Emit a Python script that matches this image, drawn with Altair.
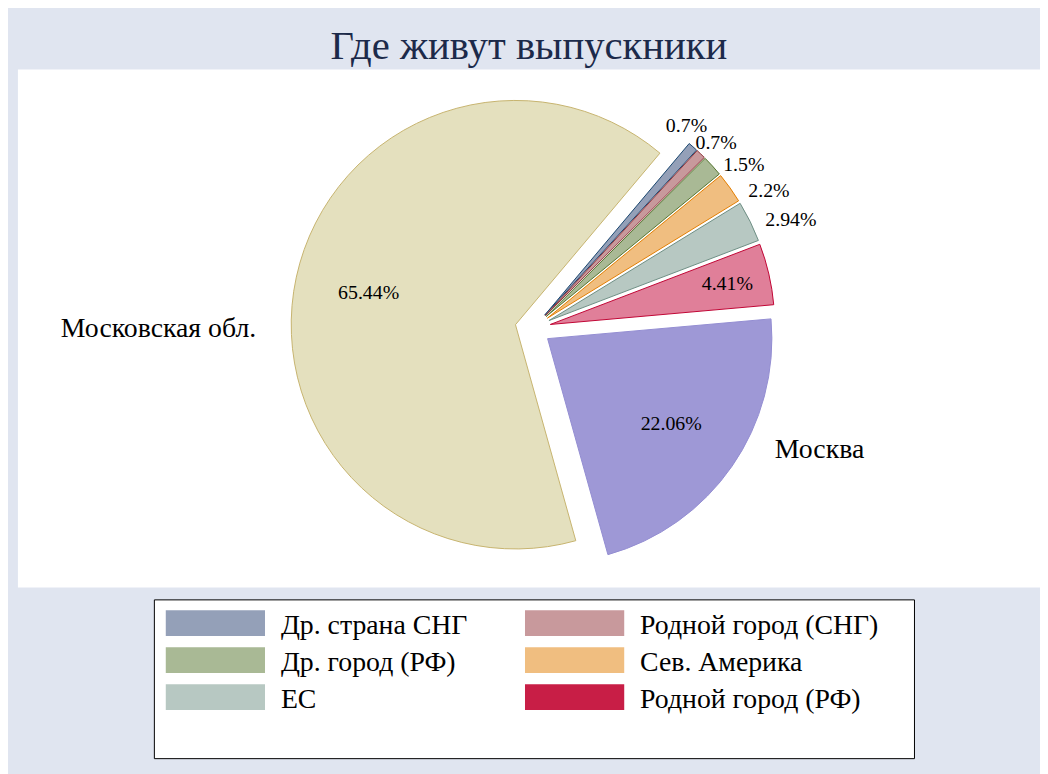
import math
import altair as alt
import pandas as pd

# ---------------- data ----------------
title_text = "Где живут выпускники"
names = ["Др. страна СНГ", "Родной город (СНГ)", "Др. город (РФ)", "Сев. Америка",
         "ЕС", "Родной город (РФ)", "Москва", "Московская обл."]
values = [0.7, 0.7, 1.5, 2.2, 2.94, 4.41, 22.06, 65.44]
order = list(range(len(names)))

pie_fills = ["#94A0B8", "#C8999C", "#A9B995", "#F0BE80", "#B7C8C2", "#E07F99", "#9E98D6", "#E4E0BE"]
pie_strokes = ["#1A476F", "#90353B", "#55752F", "#E37E00", "#6E8E84", "#C10534", "#938DD2", "#C7B36F"]

legend_names = names[:6]
legend_fills = ["#94A0B8", "#C8999C", "#A9B995", "#F0BE80", "#B7C8C2", "#C81E46"]

# ---------------- layout / style ----------------
FONT = "Liberation Serif"
BG = "#E0E5F0"
W, H = 1030, 522
CX, CY = 519, 261          # pie centre inside the plot area
R = 226                    # pie radius
EXPL = 18                  # explode distance of every slice
A0 = math.radians(40.1)    # start angle (clockwise from 12 o'clock)

pie_df = pd.DataFrame({"name": names, "value": values, "order": order})
leg_df = pd.DataFrame({"lname": legend_names, "idx": list(range(len(legend_names)))})

fill_scale = alt.Scale(domain=names, range=pie_fills)
stroke_scale = alt.Scale(domain=names, range=pie_strokes)

base = (
    alt.Chart(pie_df)
    .transform_joinaggregate(total="sum(value)")
    .transform_window(cum="sum(value)", sort=[alt.SortField("order")], frame=[None, 0])
    .transform_calculate(f1="datum.cum / datum.total",
                         f0="(datum.cum - datum.value) / datum.total")
    .transform_calculate(mid=f"{A0} + PI * (datum.f0 + datum.f1)")
    .transform_calculate(cx=f"{CX} + {EXPL} * sin(datum.mid)",
                         cy=f"{CY} - {EXPL} * cos(datum.mid)")
)

arcs = base.mark_arc(radius=R, strokeWidth=1).encode(
    x=alt.X("cx:Q", scale=None, axis=None),
    y=alt.Y("cy:Q", scale=None, axis=None),
    theta=alt.Theta("f0:Q", scale=alt.Scale(domain=[0, 1], range=[A0, A0 + 2 * math.pi]), stack=None),
    theta2="f1:Q",
    fill=alt.Fill("name:N", scale=fill_scale, legend=None),
    stroke=alt.Stroke("name:N", scale=stroke_scale, legend=None),
)

# percentage labels inside the larger slices
inside = (
    base.transform_filter("datum.value > 4")
    .transform_calculate(d=f"{R} * (datum.value > 10 ? 0.67 : 0.81)")
    .transform_calculate(lx="datum.cx + datum.d * sin(datum.mid)",
                         ly="datum.cy - datum.d * cos(datum.mid)",
                         lab="toString(datum.value) + '%'")
    .mark_text(font=FONT, fontSize=20, color="black", align="center", baseline="middle")
    .encode(x=alt.X("lx:Q", scale=None, axis=None),
            y=alt.Y("ly:Q", scale=None, axis=None),
            text="lab:N")
)

# percentage labels outside the small slices, fanned out
outside = (
    base.transform_filter("datum.value < 4")
    .transform_window(rk="row_number()", sort=[alt.SortField("order")])
    .transform_calculate(k="datum.rk - 1")
    .transform_calculate(phi=f"{A0} + PI / 180 * (-2.9 + 7.5 * datum.k)",
                         d="256 + 6.5 * datum.k")
    .transform_calculate(lx=f"{CX} + datum.d * sin(datum.phi)",
                         ly=f"{CY} - datum.d * cos(datum.phi)",
                         lab="toString(datum.value) + '%'")
    .mark_text(font=FONT, fontSize=20, color="black", align="center", baseline="middle")
    .encode(x=alt.X("lx:Q", scale=None, axis=None),
            y=alt.Y("ly:Q", scale=None, axis=None),
            text="lab:N")
)

# category names next to the two big slices
names_base = (
    base.transform_filter("datum.value > 20")
    .transform_calculate(phi=f"{A0} + 2 * PI * (datum.f0 + 0.43 * (datum.f1 - datum.f0))")
    .transform_calculate(nx=f"datum.cx + {R + 36} * sin(datum.phi)",
                         ny=f"datum.cy - {R + 36} * cos(datum.phi)")
)
name_right = names_base.transform_filter("sin(datum.phi) > 0").mark_text(
    font=FONT, fontSize=28, color="black", align="left", baseline="middle", dy=-15
).encode(x=alt.X("nx:Q", scale=None, axis=None), y=alt.Y("ny:Q", scale=None, axis=None), text="name:N")
name_left = names_base.transform_filter("sin(datum.phi) <= 0").mark_text(
    font=FONT, fontSize=28, color="black", align="right", baseline="middle", dy=-15
).encode(x=alt.X("nx:Q", scale=None, axis=None), y=alt.Y("ny:Q", scale=None, axis=None), text="name:N")

pie = alt.layer(arcs, inside, outside, name_right, name_left).properties(
    width=W, height=H, view=alt.ViewBackground(fill="white", stroke=None)
)

# ---------------- legend panel ----------------
leg_base = (
    alt.Chart(leg_df)
    .transform_calculate(row="floor(datum.idx / 2)", col="datum.idx % 2")
    .transform_calculate(x0="12 + datum.col * 362", yc="24 + datum.row * 37.25")
    .transform_calculate(x1="datum.x0 + 100", y0="datum.yc - 13", y1="datum.yc + 13",
                         tx="datum.x0 + 116", ty="datum.yc + 11")
)
swatches = leg_base.mark_rect().encode(
    x=alt.X("x0:Q", scale=None, axis=None), x2="x1:Q",
    y=alt.Y("y0:Q", scale=None, axis=None), y2="y1:Q",
    fill=alt.Fill("lname:N", scale=alt.Scale(domain=legend_names, range=legend_fills), legend=None),
)
leg_text = leg_base.mark_text(font=FONT, fontSize=28, color="black", align="left",
                              baseline="alphabetic").encode(
    x=alt.X("tx:Q", scale=None, axis=None),
    y=alt.Y("ty:Q", scale=None, axis=None),
    text="lname:N",
)
legend_panel = alt.layer(swatches, leg_text).properties(
    width=766, height=160,
    view=alt.ViewBackground(fill="white", stroke="black", strokeWidth=1),
)

spacer = alt.Chart(pd.DataFrame({"a": [0]})).mark_point(opacity=0).properties(
    width=136, height=160, view=alt.ViewBackground(fill=None, stroke=None)
)

bottom = alt.hconcat(spacer, legend_panel, spacing=0)

chart = alt.vconcat(pie, bottom, spacing=11).properties(
    title=alt.TitleParams(text=title_text, font=FONT, fontSize=41, fontWeight="normal",
                          color="#1C2A4A", anchor="middle", offset=2),
    padding={"left": 10, "top": 15, "right": 0, "bottom": 12},
    background=BG,
).resolve_scale(fill="independent").configure_view(stroke=None)

chart.save("out.html", embed_options={"renderer": "svg", "actions": False})
